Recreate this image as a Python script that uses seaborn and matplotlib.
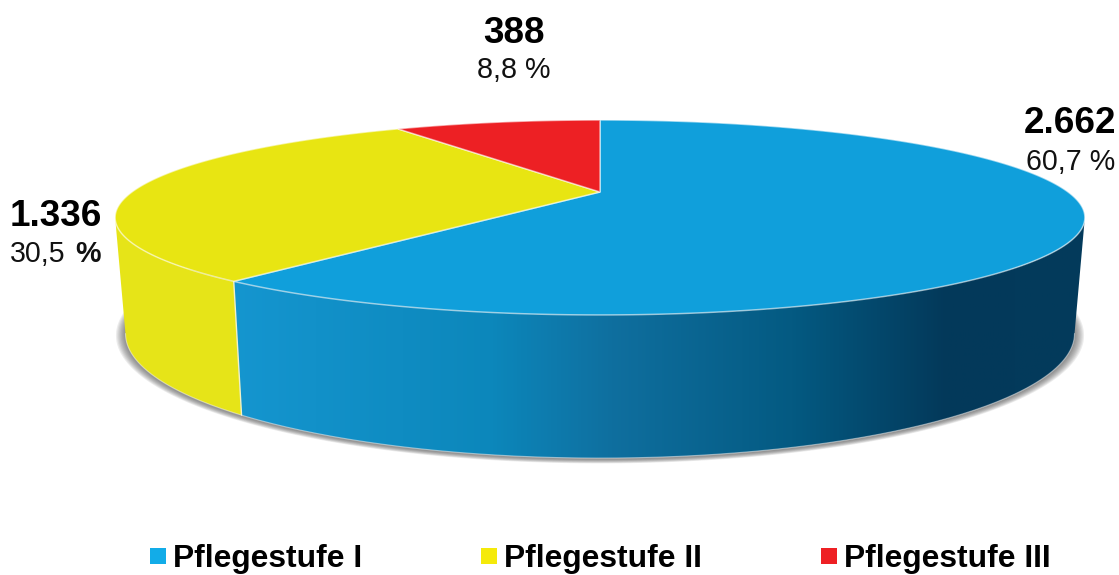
import numpy as np
import matplotlib
matplotlib.use("Agg")
import matplotlib.pyplot as plt
import seaborn as sns
from matplotlib.colors import LinearSegmentedColormap
from matplotlib.patches import Patch, Polygon
from matplotlib.path import Path
from matplotlib.transforms import Affine2D, Transform

categories = ["Pflegestufe I", "Pflegestufe II", "Pflegestufe III"]
counts = [2662, 1336, 388]
count_labels = ["2.662", "1.336", "388"]
share_labels = ["60,7 %", "30,5", "8,8 %"]
top_colors = ["#109fdb", "#e8e512", "#ed2024"]
legend_colors = ["#12ace8", "#f5ea0a", "#ee2024"]

sns.set_theme(style="white")
plt.rcParams["font.family"] = ["Liberation Sans", "DejaVu Sans"]

K = 0.2615          # perspective strength of the tilted disc
CX = 600.0


class Tilt(Transform):
    """Perspective projection of the unit-circle pie onto the page."""
    input_dims = output_dims = 2
    has_inverse = False

    def __init__(self, cy, a, b):
        super().__init__()
        self.cy, self.a, self.b = cy, a, b

    def transform_non_affine(self, v):
        v = np.asarray(v, float)
        d = 1 + K * v[:, 1]
        return np.column_stack([CX + self.b * v[:, 0] / d, self.cy - self.a * v[:, 1] / d])

    def transform_path_non_affine(self, path):
        polys = path.to_polygons(Affine2D().scale(3000), closed_only=True)
        return Path(self.transform_non_affine(polys[0] / 3000), closed=True)


top = Tilt(192, 90.8, 468)
bottom = Tilt(301, 116, 458)

fig = plt.figure(figsize=(11.19, 5.75), dpi=100)
ax = fig.add_axes([0, 0, 1, 1])
wedges, _ = ax.pie(counts, colors=sns.color_palette(top_colors), startangle=90,
                   counterclock=False, radius=1,
                   wedgeprops=dict(linewidth=1.1, edgecolor=(1, 1, 1, 0.55), zorder=6))
for w in wedges:
    w.set_transform(top + ax.transData)


def arc(tr, t0, t1, n=240):
    t = np.radians(np.linspace(t0, t1, n))
    return tr.transform_non_affine(np.column_stack([np.cos(t), np.sin(t)]))


# soft shadow under the disc
circle = np.column_stack([np.cos(np.linspace(0, 2 * np.pi, 360)), np.sin(np.linspace(0, 2 * np.pi, 360))])
for i in range(8, 0, -1):
    tr = Tilt(302.0, 116 + i * 0.40, 458 + i * 1.15)
    ax.add_patch(Polygon(tr.transform_non_affine(circle), closed=True, fc="#555555",
                         ec="none", alpha=0.11, zorder=1))

# the visible side walls, split where the top wedges split
widest = np.degrees(np.arcsin(K))
split = wedges[0].theta1
blue_wall = np.vstack([arc(top, split, -widest), arc(bottom, -widest, split)])
yellow_wall = np.vstack([arc(top, -180 + widest, split), arc(bottom, split, -180 + widest)])

ax.add_patch(Polygon(yellow_wall, closed=True, fc="#e6e418", ec="none", zorder=3))
shade = LinearSegmentedColormap.from_list("wall", [
    (0.0, "#1596d0"), (0.31, "#0c87bb"), (0.45, "#0f6f9f"), (0.66, "#045a82"),
    (0.84, "#03395a"), (1.0, "#033b5c")])
clip = Polygon(blue_wall, closed=True, fc="none", ec="none", transform=ax.transData)
ax.add_patch(clip)
im = ax.imshow(np.linspace(0, 1, 512)[None, :], cmap=shade, aspect="auto",
               extent=[225, 1085, 470, 200], zorder=3)
im.set_clip_path(clip)
seam = np.vstack([arc(top, split, split, 1), arc(bottom, split, split, 1)])
ax.plot(seam[:, 0], seam[:, 1], color="#f1f1c8", lw=1, zorder=4)
lip = arc(bottom, -180 + widest, -widest)
ax.plot(lip[:, 0], lip[:, 1], color=(1, 1, 1, 0.45), lw=0.8, zorder=4)

ax.set_aspect("auto")
ax.set_xlim(0, 1119)
ax.set_ylim(575, 0)
ax.axis("off")

ax.text(1116, 133, count_labels[0], ha="right", va="baseline", fontsize=26.6, fontweight="bold", color="black")
ax.text(1115, 170, share_labels[0], ha="right", va="baseline", fontsize=20.6, color="#111111")
ax.text(10, 226, count_labels[1], ha="left", va="baseline", fontsize=26.6, fontweight="bold", color="black")
ax.text(10, 262, share_labels[1], ha="left", va="baseline", fontsize=20.6, color="#111111")
ax.text(75, 262, "%", ha="left", va="baseline", fontsize=20.6, fontweight="bold", color="#111111")
ax.text(514, 43, count_labels[2], ha="center", va="baseline", fontsize=26.6, fontweight="bold", color="black")
ax.text(514, 78, share_labels[2], ha="center", va="baseline", fontsize=20.6, color="#111111")

handles = [Patch(fc=c, ec="none", label=n) for c, n in zip(legend_colors, categories)]
ax.legend(handles=handles, ncol=3, frameon=False, loc="lower left",
          bbox_to_anchor=(150, 574.5), bbox_transform=ax.transData,
          borderpad=0, borderaxespad=0, prop=dict(weight="bold", size=22.9),
          handlelength=0.49, handleheight=0.42, handletextpad=0.22, columnspacing=3.76,
          labelcolor="black")

fig.savefig("out.png", dpi=100, facecolor="white")
